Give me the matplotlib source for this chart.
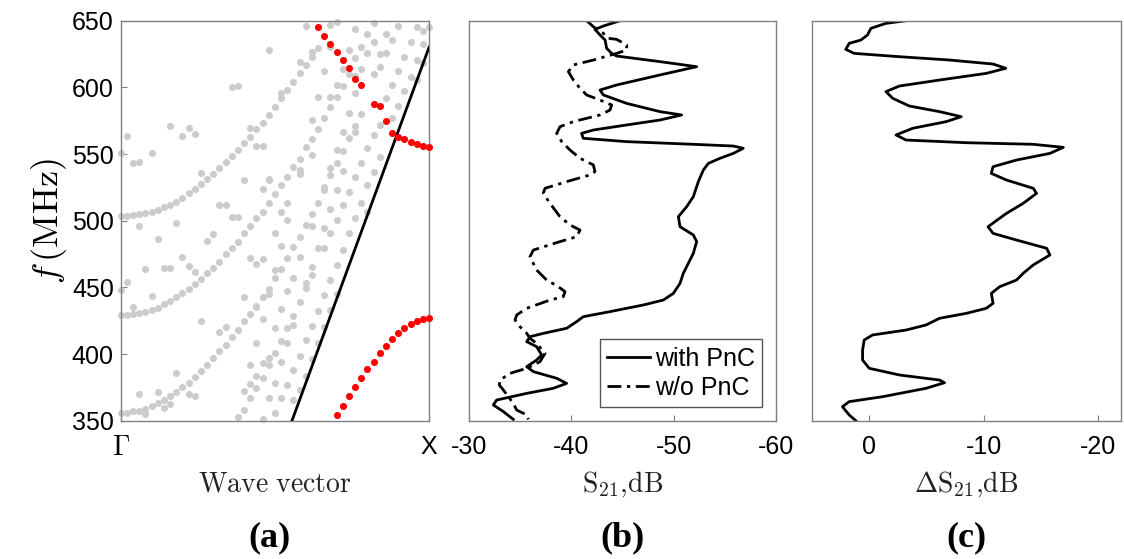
import numpy as np
import matplotlib
matplotlib.use("Agg")
import matplotlib.pyplot as plt

plt.rcParams['mathtext.fontset'] = 'cm'
plt.rcParams['font.family'] = ['Liberation Sans', 'DejaVu Sans']
plt.rcParams['axes.unicode_minus'] = False

# ---------------- Panel (a): band structure ----------------
# gray modes: Gamma-curve A (starts ~356 MHz)
curveA_k = [0, .02, .04, .06, .08, .10, .12, .14, .16, .18, .20, .22, .24, .26, .28, .30, .32, .34, .36, .38,
            .40, .42, .44, .46, .48, .50, .52, .54, .56, .58, .60, .62, .64, .66, .68, .70, .72, .74, .76, .78]
curveA_f = [356, 356, 357, 357.5, 359, 361, 363, 365.5, 368.5, 371.5, 375, 378.5, 383, 387, 392, 397, 402, 407, 413, 418,
            425, 430, 436, 443, 449, 457, 464, 472, 480, 488, 497, 505, 513, 525, 534, 543, 552, 562, 571, 580]
# Gamma-curve B (starts ~429 MHz)
curveB_k = [0, .02, .04, .06, .08, .10, .12, .14, .16, .18, .20, .22, .24, .26, .28, .30, .32, .34, .36, .38,
            .40, .42, .44, .46, .48, .50, .52, .54, .56, .58, .60, .62, .64, .66, .68, .70, .72, .74, .76, .78, .80, .82]
curveB_f = [429.3, 429.3, 430, 430.5, 431.8, 433, 434.8, 437.3, 440, 442.5, 445.5, 448.5, 452.3, 456.3, 460.5, 464.8,
            469.3, 474.8, 479.3, 484.3, 490.5, 496, 501.8, 506.8, 513, 520, 527, 533, 540, 546, 555, 561, 568.5, 577,
            585, 593, 601, 610, 622, 630.5, 640, 648.5]
# Gamma-curve C (starts ~504 MHz)
curveC_k = [0, .02, .04, .06, .08, .10, .12, .14, .16, .18, .20, .22, .24, .26, .28, .30, .32, .34, .36, .38,
            .40, .42, .44, .46, .48, .50, .52, .54, .56, .58, .60, .62, .64]
curveC_f = [503.5, 503.8, 504.3, 505, 505.5, 506.8, 508, 510, 511.8, 514, 517, 521, 523.8, 527.3, 531, 535, 539.3,
            543.8, 548.5, 553, 558, 563, 568.5, 573.5, 579.3, 585.5, 591.8, 598, 604.3, 610.5, 616.8, 623, 629.3]
# remaining (scattered) gray modes
other_k = [.60, .68, .70, .76, .82, .86, .88, .90, .94, .96, .98, 1.0,
           0, .02, .04, .06, .10, .16, .20, .22, .24, .36, .38, .48,
           .42, .44, .46, .52, .58, .62,
           .48, .46, .58, .58, .62, .64, .62, .66, .68, .68, .70, .72, .74, .80, .78, .76, .76, .74, .76, .72,
           .70, .68, .66, .70, .74, .72, .76, .78, .80, .82, .84, .82, .84, .82, .84, .84, .86, .86, .88, .88,
           .90, .90, .92, .92, .94, .96, .96, .98, .98, .80,
           .50, .56, .58, .52, .62, .64, .66, .66, .68, .68, .70, .72, .76, .78, .80, .74, .72, .70, .68, .62,
           .62, .60, .54, .52, .54,
           .06, .12, .18, .20, .08, .14, .16, .22, .24, .26, .28, .30, .32, .34, .36, .38, .40, .42, .44, .46,
           .48, .50, .02, 0,
           .04, .10, .26, .18, .06, .12, .08, .14, .16, .22, .24, .32, .34, .40, .44, .46, .44, .48, .42, .46,
           .48, .48, .44, .46, .42, .44, .40, .42, .40, .38, .46, .48, .50, .50, .50,
           .54, .60, .58, .66, .70, .52, .56, .64, .68, .54, .56, .62, .66, .52, .54, .60, .64, .58, .50, .52,
           .56, .62, .60, .54, .52, .56, .58]
other_f = [646, 647, 649, 644, 634, 640, 635.5, 646, 634, 645.5, 642, 645,
           550.5, 563.8, 543, 543.8, 550.5, 571, 563.5, 569.3, 564.8, 600, 601, 628,
           569.3, 556.3, 556.3, 595.5, 619.3, 626.8,
           530.5, 523.5, 538, 534.8, 549.3, 593, 575.5, 612.3, 630.5, 593, 601.8, 613.5, 628, 625.5, 613.5, 608.5,
           596, 580.5, 566.8, 566.8,
           553, 539.3, 523, 523, 521.8, 537.5, 533, 543.5, 554.3, 536.8, 548, 564.3, 571.8, 610, 615.5, 625, 625.5,
           591.8, 576.8, 601.8,
           612.3, 586, 623, 597.5, 608, 620.5, 605.5, 618, 632.5, 526.8,
           463, 456.8, 473, 481.3, 496, 479.3, 479.3, 494.3, 490.5, 508.5, 500.5, 511.8, 501.8, 513, 506.8, 490.5,
           478, 466.8, 455.5, 465.5,
           459.3, 453, 513, 506.8, 500.5,
           496, 486, 498.5, 473, 463.5, 464.3, 464.3, 466, 461.8, 536, 485, 489.8, 511.8, 511.8, 503, 502.5, 530.5,
           471.8, 467.5, 471.3,
           531, 490.5, 453.8, 448,
           435.5, 443.8, 424.8, 385.5, 370, 371.3, 354.8, 359.3, 362.5, 370, 368.8, 416.8, 420, 443, 435.5, 426,
           408.5, 444.8, 391.8, 393.5,
           396.8, 391.8, 383.8, 382.3, 377.3, 374.3, 372.3, 366.8, 358, 353, 351, 366.8, 419.3, 378, 356,
           447.3, 449.3, 439.3, 444.3, 444.8, 433.8, 428.8, 432.3, 433, 419.3, 421.8, 421.3, 420.5, 409.8, 408.5,
           410.5, 408, 398.8, 400.5, 393.8,
           388, 396.3, 383.8, 376.8, 366.8, 365.5, 373]

# red (target) modes
red_upper_k = [.64, .66, .68, .70, .72, .74, .76, .78, .82, .84, .86, .88, .90, .92, .94, .96, .98, 1.0]
red_upper_f = [645, 638.8, 632.5, 626.3, 620.5, 614.8, 606.3, 601.8, 587.3, 586.3, 574.8, 566, 563, 561.3, 558.8,
               557.3, 556, 555.5]
red_lower_k = [.70, .72, .74, .76, .78, .80, .82, .84, .86, .88, .90, .92, .94, .96, .98, 1.0]
red_lower_f = [354.3, 361.3, 368.5, 375.5, 381.8, 388.5, 394.3, 400.5, 406, 411, 415.5, 419.3, 422.5, 425, 426.5,
               426.8]

# sound line
line_k = [0.0, 1.0]
line_f = [0.0, 630.0]

# ---------------- Panel (b): S21 ----------------
with_f = [650, 646, 643.5, 639.3, 635.5, 629.3, 625.5, 623.5, 619.3, 615.5, 609.3, 601.8, 598, 594.3, 588, 581.8,
          579.3, 575.5, 571.8, 568, 565.5, 561.8, 559.3, 557.3, 556, 554.3, 550.5, 546.8, 543, 538, 529.3, 518,
          510.5, 503, 495.5, 489.3, 484.3, 475.5, 468, 460.5, 453, 445.5, 440.5, 436.8, 431.8, 428, 424.3, 419.3,
          415.5, 413, 409.3, 405.5, 399.3, 395.5, 390.5, 386.8, 381.8, 378, 374.3, 370.5, 365.5, 361.8, 356.8, 351]
with_s21 = [-44.76, -43.13, -42.31, -42.8, -43.3, -43.45, -43.94, -44.43, -48.66, -52.25, -48.66, -44.43, -42.8,
            -43.13, -45.4, -48.66, -50.78, -48.66, -45.4, -42.15, -41.0, -41.17, -45.4, -51.9, -55.83, -56.8,
            -55.83, -54.53, -53.39, -52.9, -52.41, -51.92, -51.27, -50.46, -50.62, -51.92, -52.25, -51.92, -51.43,
            -50.94, -50.62, -49.97, -48.99, -47.04, -43.78, -41.17, -40.52, -39.54, -37.26, -35.96, -35.64, -36.61,
            -37.1, -36.61, -35.64, -36.29, -38.57, -39.54, -38.24, -35.64, -32.7, -32.38, -33.36, -34.33]
wo_f = [650, 645.5, 640.5, 636.8, 636, 631.8, 628, 625.5, 620.5, 616.8, 611.8, 605.5, 599.3, 594.3, 590.5, 586.8,
        583, 579.3, 574.3, 570.5, 565.5, 559.3, 553, 546.8, 541.8, 536.8, 534.3, 529.3, 524.3, 520.5, 513, 503,
        496.8, 493, 488, 484.3, 478, 473, 463, 455.5, 450.5, 446.8, 443, 440.5, 434.3, 429.3, 425.5, 420.5, 415.5,
        411.8, 408, 400.5, 394.3, 389.3, 385.5, 380.5, 376.8, 373, 368, 363, 358, 354.3, 351]
wo_s21 = [-41.5, -42.15, -43.13, -43.62, -44.43, -45.41, -45.41, -44.43, -42.15, -40.2, -39.71, -40.2, -40.85,
          -41.5, -42.8, -43.94, -43.78, -42.8, -40.2, -38.89, -38.57, -39.06, -39.87, -40.85, -42.15, -42.31, -41.82,
          -39.54, -37.43, -37.26, -37.92, -38.89, -39.87, -40.85, -40.52, -38.89, -36.29, -35.96, -36.61, -37.59,
          -38.73, -39.38, -39.22, -37.92, -35.64, -34.66, -34.5, -34.98, -35.64, -35.96, -36.61, -37.43, -36.94,
          -35.64, -34.0, -33.03, -32.96, -33.36, -33.84, -34.33, -34.66, -35.64, -35.8]

# ---------------- Panel (c): delta S21 ----------------
d_f = [650, 648, 644.3, 639.3, 635.5, 633, 628.5, 625.5, 623, 620.5, 617.5, 614.3, 610.5, 605.5, 601, 596.8, 591.8,
       586, 581.8, 578, 574.3, 569.3, 564.3, 560.5, 558.5, 557.3, 555, 550.5, 545.5, 540.5, 535.5, 530.5, 524.3,
       520.5, 513, 505.5, 495.5, 490.5, 485.5, 479.3, 474.3, 466.8, 460.5, 455.5, 450.5, 445.5, 438, 434.3, 430.5,
       426.8, 421.8, 418, 414.3, 410.5, 403, 395.5, 389.3, 384.3, 380.5, 378.5, 374.3, 368, 364.3, 360.5, 354.3, 350]
d_s21 = [-3.22, -1.46, -0.15, 0.15, 0.73, 1.75, 2.05, 1.32, -2.63, -7.02, -10.82, -11.93, -10.23, -6.14, -2.63,
         -1.46, -2.05, -3.51, -6.14, -8.04, -6.73, -3.8, -2.34, -3.22, -8.48, -14.33, -16.96, -15.79, -12.87, -10.82,
         -10.67, -11.99, -14.33, -14.62, -13.45, -11.99, -10.38, -10.82, -12.87, -15.5, -15.79, -14.33, -13.45,
         -12.87, -11.4, -10.67, -10.82, -10.23, -8.48, -6.14, -4.97, -3.22, -0.29, 0.44, 0.58, 0.58, 0, -2.63,
         -6.14, -6.58, -4.97, -1.17, 1.75, 2.34, 1.75, 1.17]

f_ticks = [350, 400, 450, 500, 550, 600, 650]
b_ticks = [-30, -40, -50, -60]
c_ticks = [0, -10, -20]
panel_labels = ['(a)', '(b)', '(c)']

W, H = 1124, 559
fig = plt.figure(figsize=(W / 100, H / 100), dpi=100)

def frac(l, r):
    return [l / W, (H - 420.7) / H, (r - l) / W, 400 / H]

axa = fig.add_axes(frac(120.7, 429))
axb = fig.add_axes(frac(469, 776))
axc = fig.add_axes(frac(812, 1121))

spine_col = '#808080'
for ax in (axa, axb, axc):
    for s in ax.spines.values():
        s.set_color(spine_col)
        s.set_linewidth(1.0)
    ax.set_ylim(350, 650)
    ax.tick_params(direction='in', length=4, color=spine_col, labelsize=18, labelcolor='black',
                   top=False, right=False)
    ax.tick_params(axis='x', pad=10)
    ax.tick_params(axis='y', pad=5)

gray = '#cccccc'
ms = 26
axa.scatter(curveA_k, curveA_f, s=ms, color=gray, lw=0, zorder=2, clip_on=False)
axa.scatter(curveB_k, curveB_f, s=ms, color=gray, lw=0, zorder=2, clip_on=False)
axa.scatter(curveC_k, curveC_f, s=ms, color=gray, lw=0, zorder=2, clip_on=False)
axa.scatter(other_k, other_f, s=ms, color=gray, lw=0, zorder=2, clip_on=False)
axa.plot(line_k, line_f, color='black', lw=2.0, zorder=3)
axa.scatter(red_upper_k, red_upper_f, s=ms, color='#ff0000', lw=0, zorder=4, clip_on=False)
axa.scatter(red_lower_k, red_lower_f, s=ms, color='#ff0000', lw=0, zorder=4, clip_on=False)
axa.set_xlim(0, 1)
axa.set_yticks(f_ticks)
axa.set_xticks([0, 1])
axa.set_xticklabels([r'$\Gamma$', 'X'])
axa.get_xticklabels()[0].set_fontsize(20)
axa.set_ylabel(r'$f\,(\mathrm{MHz})$', fontsize=26, labelpad=2)
axa.set_xlabel(r'$\mathrm{Wave\ vector}$', fontsize=20, labelpad=8, color='#222222')

line_kw = dict(color='black', lw=2.0, solid_joinstyle='round', dash_joinstyle='round')
axb.plot(with_s21, with_f, label='with PnC', **line_kw)
axb.plot(wo_s21, wo_f, linestyle=(0, (5, 2, 1.2, 2)), label='w/o PnC', **line_kw)
axb.set_xlim(-30, -60)
axb.set_xticks(b_ticks)
axb.set_yticks([])
axb.set_xlabel(r'$\mathrm{S_{21}{,}dB}$', fontsize=20, labelpad=8, color='#222222')
leg = axb.legend(loc='lower right', bbox_to_anchor=(0.955, 0.034), borderaxespad=0, fontsize=18,
                 fancybox=False, framealpha=1, edgecolor='#555555', handlelength=1.7, handletextpad=0.2,
                 borderpad=0.3, labelspacing=0.2)
leg.get_frame().set_linewidth(1.0)

axc.plot(d_s21, d_f, **line_kw)
axc.set_xlim(5, -22)
axc.set_xticks(c_ticks)
axc.set_yticks([])
axc.set_xlabel(r'$\Delta\mathrm{S_{21}{,}dB}$', fontsize=20, labelpad=8, color='#222222')

for x, lab in zip([269, 623, 966], panel_labels):
    fig.text(x / W, 1 - 538 / H, lab, fontsize=26, ha='center', va='center',
             family='Liberation Serif', weight='bold')

fig.savefig('out.png', dpi=100)
